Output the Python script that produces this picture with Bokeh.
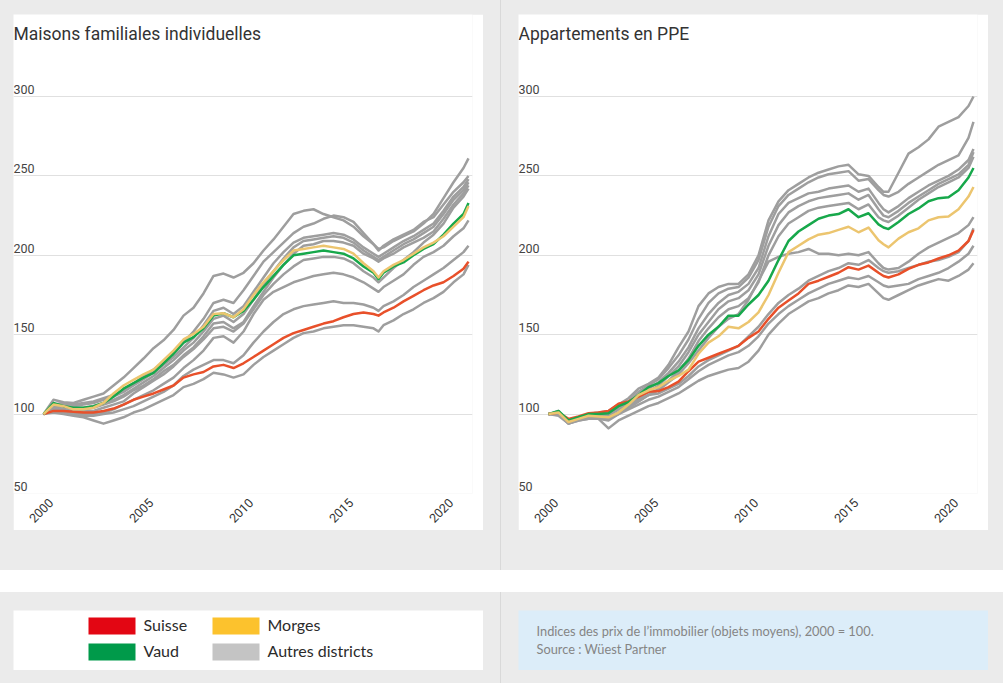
import math
from bokeh.plotting import figure
from bokeh.models import Range1d, FixedTicker, Label, Spacer
from bokeh.layouts import row, column
from bokeh.embed import file_html
from bokeh.resources import INLINE
from bokeh.core.properties import value

# ---------------- data ----------------
years = [2000, 2000.5, 2001, 2001.5, 2002, 2002.5, 2003, 2003.5, 2004, 2004.5,
         2005, 2005.5, 2006, 2006.5, 2007, 2007.5, 2008, 2008.5, 2009, 2009.5,
         2010, 2010.5, 2011, 2011.5, 2012, 2012.5, 2013, 2013.5, 2014, 2014.5,
         2015, 2015.5, 2016, 2016.5, 2016.75, 2017, 2017.5, 2018, 2018.5, 2019,
         2019.5, 2020, 2020.5, 2021, 2021.25]

x_ticks = [2000, 2005, 2010, 2015, 2020]
y_ticks = [50, 100, 150, 200, 250, 300]

# Maisons familiales individuelles
maisons_suisse = [100, 102, 102, 101.5, 101, 101, 102, 103.5, 106, 109, 111, 113, 115.5, 118, 123, 125,
                  126.5, 130, 131, 129, 132, 136, 140, 144, 148, 151, 153, 155, 157, 158.5, 161, 163,
                  164, 163, 162, 164, 167, 171, 174.5, 178, 181, 183, 187, 191.5, 196]
maisons_vaud = [100, 107, 105, 104, 104, 105, 107, 111, 116, 119.5, 123, 126, 132, 138, 145, 148.5,
                154, 162, 163.5, 161, 165, 172, 180, 187, 194, 200, 201, 202, 203, 202, 201, 198,
                193, 189, 185, 189, 193, 195.5, 200, 204, 207, 213, 220, 226, 233]
maisons_morges = [100, 106, 105, 103, 103, 104, 107, 113, 118, 121.5, 125, 128, 134, 140, 147, 150.5,
                  155, 163, 163.5, 161, 166, 175, 183, 190, 197, 203, 204, 205, 206, 205, 204, 201,
                  195, 190, 186, 190, 194, 197, 201, 205, 208, 212, 218, 224, 231]
maisons_autres = [
    [100, 109, 107.5, 107, 109, 111, 113, 118, 123, 129, 135, 141.5, 146.5, 153, 162, 167, 176, 187,
     188.5, 186, 189, 195, 203, 210, 218, 226, 228, 229, 226, 224, 222, 218, 212, 207, 204, 205, 209,
     212, 215, 220, 226, 236, 246, 255, 261],
    [100, 106, 107, 106, 107, 108, 110, 112, 115, 119, 124, 128, 133, 138, 145, 152, 160, 170, 172,
     170, 178, 187, 196, 202, 208, 214, 218, 220, 223, 225, 224, 221, 214, 207, 203, 206, 210, 213,
     216, 221, 224, 232, 240, 246, 250],
    [100, 105, 106, 105, 106, 107, 109, 111, 114, 118, 122, 126, 131, 136, 142, 148, 156, 165, 167,
     163, 168, 177, 186, 195, 202, 208, 211, 212, 213, 214, 213, 210, 205, 201, 199, 201, 205, 209,
     212, 216, 220, 228, 237, 243, 248],
    [100, 104, 105, 104, 104, 105, 107, 109, 112, 116, 120, 124, 129, 134, 140, 145, 152, 160, 162,
     158, 163, 172, 182, 190, 198, 205, 209, 210, 211, 212, 211, 208, 203, 199, 197, 199, 203, 207,
     210, 214, 218, 226, 235, 241, 246],
    [100, 104, 104, 103, 103, 104, 106, 108, 111, 115, 118, 122, 127, 131, 137, 142, 149, 157, 158,
     154, 158, 168, 177, 186, 194, 201, 206, 207, 209, 209, 208, 206, 201, 198, 196, 198, 201, 205,
     208, 211, 215, 223, 232, 239, 244],
    [100, 104, 103, 102, 102, 102, 104, 106, 108, 113, 117, 121, 125, 130, 136, 141, 147, 154, 155,
     152, 157, 166, 175, 182, 188, 193, 197, 198, 199, 199, 198, 195, 190, 186, 183, 186, 192, 197,
     202, 208, 213, 220, 230, 237, 242],
    [100, 103, 102, 101, 100, 100, 101, 103, 106, 109, 112, 115, 119, 123, 129, 134, 140, 148, 149,
     145, 152, 163, 172, 177, 180, 183, 185, 187, 188, 189, 188, 186, 183, 179, 177, 180, 184, 188,
     194, 199, 202, 206, 212, 217, 222],
    [100, 102, 101, 100, 99, 99, 100, 101, 103, 105, 108, 111, 114, 118, 124, 128, 131, 134, 134,
     132, 137, 145, 152, 158, 163, 166, 168, 169, 170, 171, 170, 170, 169, 167, 165, 168, 171, 175,
     180, 184, 188, 192, 197, 202, 206],
    [100, 101, 100, 99, 98, 96, 94, 96, 98, 101, 103, 106, 109, 112, 117, 119, 122, 126, 125, 123,
     125, 131, 136, 140, 144, 148, 151, 152, 154, 155, 156, 156, 155, 154, 152, 156, 159, 163, 166,
     170, 173, 177, 183, 188, 194],
]

# Appartements en PPE
ppe_suisse = [100, 101, 97, 98.5, 100.5, 101, 102, 106.5, 108, 111, 114, 114.5, 117, 120.5, 127, 133,
              135.5, 138, 140.5, 143, 148, 152, 160, 167, 171.5, 176, 182, 184, 186.5, 189, 192.5,
              191, 193.5, 189, 187, 186, 188, 191.5, 194, 195.5, 198, 200, 203, 209, 216]
ppe_vaud = [100, 102, 96, 98, 100, 100, 100.5, 105, 107.5, 112, 117, 119.5, 124, 127.5, 134, 143,
            150, 155, 162, 162, 169, 175, 184, 197, 209, 215, 219, 223, 225, 226, 229, 224, 226.5,
            219.5, 217.5, 216.5, 221, 226, 229.5, 234, 236, 236.5, 241, 249, 255]
ppe_morges = [100, 101, 95, 97, 99, 98.5, 98, 101, 106, 112, 115, 117, 121, 124, 128, 138, 145, 149,
              155, 154, 158, 164, 175, 189, 202, 206, 210, 213, 214, 216, 218, 214.5, 217.5, 209.5,
              207, 205, 210.5, 214.5, 217, 222, 224, 224.5, 229, 237, 243]
ppe_autres = [
    [100, 102, 95, 98, 100, 101, 102, 106, 110, 116, 119, 123, 131, 142, 152, 168, 176, 180, 182,
     182, 188, 200, 222, 234, 241, 245, 249, 252, 254, 256, 257, 251, 250, 243, 240, 240, 252, 264,
     268, 273, 281, 284, 287, 294, 300],
    [100, 101, 96, 98, 99, 100, 101, 104, 108, 114, 118, 122, 129, 137, 147, 160, 170, 176, 179,
     180, 186, 197, 218, 231, 238, 242, 246, 249, 251, 252, 253, 247, 248, 241, 238, 237, 240, 245,
     249, 253, 257, 260, 263, 274, 284],
    [100, 101, 95, 97, 99, 99, 99, 103, 107, 112, 116, 120, 126, 133, 142, 154, 163, 170, 175, 177,
     182, 192, 212, 226, 233, 236, 239, 240, 242, 243, 244, 240, 242, 233, 229, 227, 231, 236, 240,
     244, 247, 250, 254, 260, 267],
    [100, 100, 94, 97, 98, 98, 97, 101, 105, 110, 114, 118, 124, 130, 139, 150, 158, 166, 171, 173,
     178, 188, 206, 219, 227, 231, 234, 236, 237, 238, 239, 235, 238, 229, 225, 224, 228, 233, 237,
     241, 245, 248, 251, 257, 265],
    [100, 100, 94, 96, 97, 97, 96, 100, 104, 108, 112, 116, 121, 127, 135, 146, 154, 161, 166, 168,
     173, 183, 200, 212, 220, 224, 228, 230, 231, 232, 233, 229, 232, 224, 222, 221, 225, 230, 235,
     239, 243, 246, 249, 255, 262],
    [100, 101, 96, 98, 99, 99, 98, 101, 104, 108, 112, 115, 120, 125, 132, 140, 148, 155, 160, 163,
     172, 184, 196, 199, 201, 202, 204, 201, 201, 200, 201, 200, 202, 195, 192, 191, 192, 196, 201,
     205, 208, 211, 214, 219, 224],
    [100, 100, 96, 98, 99, 100, 100, 104, 106, 109, 112, 113, 116, 119, 124, 130, 134, 137, 140,
     143, 149, 155, 163, 170, 175, 179, 184, 187, 190, 192, 195, 194, 197, 192, 190, 189, 190, 192,
     194, 196, 197, 199, 202, 209, 217],
    [100, 100, 95, 97, 98, 98, 97, 100, 103, 106, 109, 111, 114, 117, 122, 127, 131, 134, 137, 139,
     143, 149, 157, 163, 168, 172, 176, 179, 182, 184, 186, 185, 187, 183, 181, 180, 181, 182, 185,
     187, 189, 192, 196, 201, 206],
    [100, 99, 94, 96, 97, 97, 91, 96, 99, 102, 105, 107, 110, 113, 117, 121, 124, 126, 128, 129,
     133, 140, 150, 157, 163, 167, 171, 173, 176, 178, 181, 180, 182, 176, 173, 172, 175, 178, 181,
     183, 185, 184, 187, 191, 195],
]

legend_labels = ["Suisse", "Morges", "Vaud", "Autres districts"]
legend_colors = ["#e30613", "#fcc22d", "#009a4a", "#c4c4c4"]
note_lines = ["Indices des prix de l\u2019immobilier (objets moyens), 2000 = 100.",
              "Source : W\u00fcest Partner"]

# ---------------- styles ----------------
BG = "#ebebeb"
C_RED = "#e8502a"
C_GREEN = "#17a84b"
C_YELLOW = "#ecc56f"
C_GRAY = "#9e9e9e"
FONT = "Roboto"
LABEL_SHIFT = 0.38  # rotated year labels sit slightly right of their year


def make_chart(title, suisse, vaud, morges, autres):
    p = figure(width=470, height=516, title=None, output_backend="svg", toolbar_location=None,
               x_range=Range1d(1998.5, 2021.45), y_range=Range1d(50, 351.64),
               min_border_left=0, min_border_right=11, min_border_top=0, min_border_bottom=37,
               y_axis_location=None, background_fill_color="white", border_fill_color="white",
               outline_line_color=None)
    p.xgrid.visible = False
    p.ygrid.ticker = FixedTicker(ticks=y_ticks)
    p.ygrid.grid_line_color = "#e0e0e0"
    p.ygrid.grid_line_width = 1

    ax = p.xaxis[0]
    tick_pos = [t + LABEL_SHIFT for t in x_ticks]
    ax.ticker = FixedTicker(ticks=tick_pos)
    ax.major_label_overrides = {tp: str(t) for tp, t in zip(tick_pos, x_ticks)}
    ax.major_label_orientation = math.pi / 4
    ax.axis_line_color = None
    ax.major_tick_line_color = None
    ax.minor_tick_line_color = None
    ax.major_tick_out = 0
    ax.major_tick_in = 0
    ax.minor_tick_out = 0
    ax.minor_tick_in = 0
    ax.major_label_text_font = FONT
    ax.major_label_text_font_size = "12.5px"
    ax.major_label_text_color = "#333333"
    ax.major_label_standoff = 7

    for g in autres:
        p.line(years, g, line_color=C_GRAY, line_width=2.5, line_join="round")
    p.line(years, suisse, line_color=C_RED, line_width=2.5, line_join="round")
    p.line(years, vaud, line_color=C_GREEN, line_width=2.5, line_join="round")
    p.line(years, morges, line_color=C_YELLOW, line_width=2.5, line_join="round")

    p.text(x=[p.x_range.start] * len(y_ticks), y=y_ticks, text=[str(t) for t in y_ticks],
           text_font=value(FONT), text_font_size=value("12.5px"), text_color="#444444",
           text_align="left", text_baseline="alphabetic", y_offset=-7)

    p.add_layout(Label(x=0, y=460, x_units="screen", y_units="screen", text=title,
                       text_font=FONT, text_font_size="17.5px", text_color="#333333",
                       text_baseline="alphabetic", text_align="left"))
    return p


left = make_chart("Maisons familiales individuelles", maisons_suisse, maisons_vaud,
                  maisons_morges, maisons_autres)
right = make_chart("Appartements en PPE", ppe_suisse, ppe_vaud, ppe_morges, ppe_autres)


def box_fig(fill):
    f = figure(width=470, height=60, title=None, output_backend="svg", toolbar_location=None,
               x_range=Range1d(0, 470), y_range=Range1d(60, 0), min_border=0,
               x_axis_location=None, y_axis_location=None, outline_line_color=None,
               background_fill_color=fill, border_fill_color=fill)
    f.xgrid.visible = False
    f.ygrid.visible = False
    return f


leg = box_fig("white")
lefts = [75 + (i % 2) * 124 for i in range(len(legend_labels))]
tops = [7 + (i // 2) * 26 for i in range(len(legend_labels))]
leg.quad(left=lefts, right=[l + 47 for l in lefts], top=tops, bottom=[t + 17 for t in tops],
         fill_color=legend_colors, line_color=None)
leg.text(x=[l + 55 for l in lefts], y=[t + 7 for t in tops], text=legend_labels,
         text_font=value("Lato"), text_font_size=value("16px"), text_color="#2b2b2b",
         text_baseline="middle", text_align="left")

note = box_fig("#dcedf9")
note.text(x=[18, 18], y=[20, 38], text=note_lines, text_font=value("Lato"),
          text_font_size=value("12.8px"), text_color="#858585", text_baseline="middle",
          text_align="left")


def sp(w, h, color=None):
    s = Spacer(width=w, height=h)
    if color:
        s.styles = {"background-color": color}
    return s


DIV = "#d9d9d9"
top = row(sp(13, 570), column(sp(470, 14), left, sp(470, 40)), sp(17, 570), sp(1, 570, DIV),
          sp(17, 570), column(sp(470, 14), right, sp(470, 40)), sp(15, 570))
band = sp(1003, 22, "white")
bottom = row(sp(13, 91), column(sp(470, 18), leg, sp(470, 13)), sp(17, 91), sp(1, 91, DIV),
             sp(17, 91), column(sp(470, 18), note, sp(470, 13)), sp(15, 91))
page = column(top, band, bottom, styles={"background-color": BG})

open("out.html", "w").write(file_html(page, INLINE))
